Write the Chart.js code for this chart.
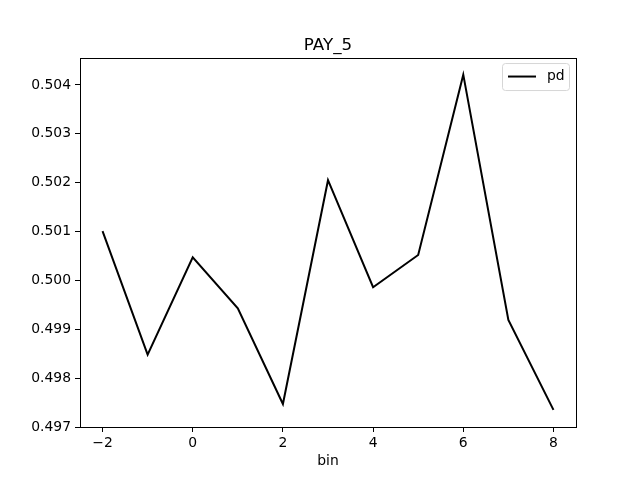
<!DOCTYPE html>
<html>
<head>
<meta charset="utf-8">
<script src="https://cdn.jsdelivr.net/npm/chart.js@4/dist/chart.umd.min.js"></script>
<style>
  html, body { margin: 0; padding: 0; background: #fff; }
</style>
</head>
<body>
<canvas id="chart" width="640" height="480"></canvas>
<script>
const bins = [-2, -1, 0, 1, 2, 3, 4, 5, 6, 7, 8];
const pdValues = [0.50101, 0.49848, 0.50047, 0.49943, 0.49747, 0.50205, 0.49986, 0.50052, 0.50421, 0.49919, 0.49735];
const xTicks = [-2, 0, 2, 4, 6, 8];
const yTicks = [0.497, 0.498, 0.499, 0.500, 0.501, 0.502, 0.503, 0.504];
const chartTitle = 'PAY_5';
const xLabel = 'bin';
const seriesName = 'pd';

const FONT = 'DejaVu Sans';

// frame round the plot area, like matplotlib's spines
const framePlugin = {
    id: 'frame',
    afterLayout(chart) {
        // centre the title over the plot area, not the whole canvas
        const a = chart.chartArea;
        if (chart.titleBlock) {
            chart.titleBlock.left = a.left;
            chart.titleBlock.right = a.right;
        }
    },
    afterDraw(chart) {
        const { ctx, chartArea: a } = chart;
        ctx.save();
        ctx.strokeStyle = '#000';
        ctx.lineWidth = 1;
        ctx.strokeRect(Math.round(a.left) + 0.5, Math.round(a.top) + 0.5,
            Math.round(a.right - a.left), Math.round(a.bottom - a.top));
        ctx.restore();
    }
};

// boxed legend in the upper right corner
const legendBoxPlugin = {
    id: 'legendBox',
    afterDraw(chart) {
        const { ctx, chartArea: a } = chart;
        const ds = chart.data.datasets[0];
        const w = 67, h = 27;
        const x = a.right - 7 - w, y = a.top + 5;
        ctx.save();
        ctx.fillStyle = 'rgba(255,255,255,0.8)';
        ctx.strokeStyle = '#d6d6d6';
        ctx.lineWidth = 1;
        ctx.beginPath();
        ctx.roundRect(x + 0.5, y + 0.5, w, h, 3);
        ctx.fill();
        ctx.stroke();
        ctx.strokeStyle = ds.borderColor;
        ctx.lineWidth = ds.borderWidth;
        ctx.beginPath();
        ctx.moveTo(x + 6, y + h / 2);
        ctx.lineTo(x + 34, y + h / 2);
        ctx.stroke();
        ctx.fillStyle = '#000';
        ctx.font = '13.9px "' + FONT + '"';
        ctx.textBaseline = 'middle';
        ctx.fillText(ds.label, x + 45, y + h / 2);
        ctx.restore();
    }
};

const minus = v => (v < 0 ? '\u2212' + Math.abs(v) : String(v));

new Chart(document.getElementById('chart'), {
    type: 'line',
    data: {
        datasets: [{
            label: seriesName,
            data: bins.map((b, i) => ({ x: b, y: pdValues[i] })),
            borderColor: '#000',
            borderWidth: 2,
            pointRadius: 0,
            tension: 0,
            fill: false
        }]
    },
    options: {
        responsive: false,
        devicePixelRatio: 1,
        animation: false,
        layout: { padding: { left: 0, right: 64, top: 0, bottom: 0 } },
        plugins: {
            legend: { display: false },
            tooltip: { enabled: false },
            title: {
                display: true,
                text: chartTitle,
                color: '#000',
                font: { family: FONT, size: 16.7, weight: 'normal' },
                padding: { top: 36, bottom: 2 }
            }
        },
        scales: {
            x: {
                type: 'linear',
                min: -2.5,
                max: 8.5,
                afterBuildTicks: s => { s.ticks = xTicks.map(v => ({ value: v })); },
                afterFit: s => { s.height = 53; },
                grid: { display: true, drawOnChartArea: false, drawTicks: true, tickLength: 5, color: '#000', tickColor: '#000' },
                border: { display: false },
                ticks: {
                    color: '#000',
                    padding: 3,
                    maxRotation: 0,
                    font: { family: FONT, size: 13.9 },
                    callback: v => minus(v)
                },
                title: {
                    display: true,
                    text: xLabel,
                    color: '#000',
                    font: { family: FONT, size: 13.9 },
                    padding: { top: 0, bottom: 10 }
                }
            },
            y: {
                min: 0.497,
                max: 0.50455,
                afterBuildTicks: s => { s.ticks = yTicks.map(v => ({ value: v })); },
                afterFit: s => { s.width = 80; },
                grid: { display: true, drawOnChartArea: false, drawTicks: true, tickLength: 5, color: '#000', tickColor: '#000' },
                border: { display: false },
                ticks: {
                    color: '#000',
                    padding: 4,
                    font: { family: FONT, size: 13.9 },
                    callback: v => v.toFixed(3)
                }
            }
        }
    },
    plugins: [framePlugin, legendBoxPlugin]
});
</script>
</body>
</html>
